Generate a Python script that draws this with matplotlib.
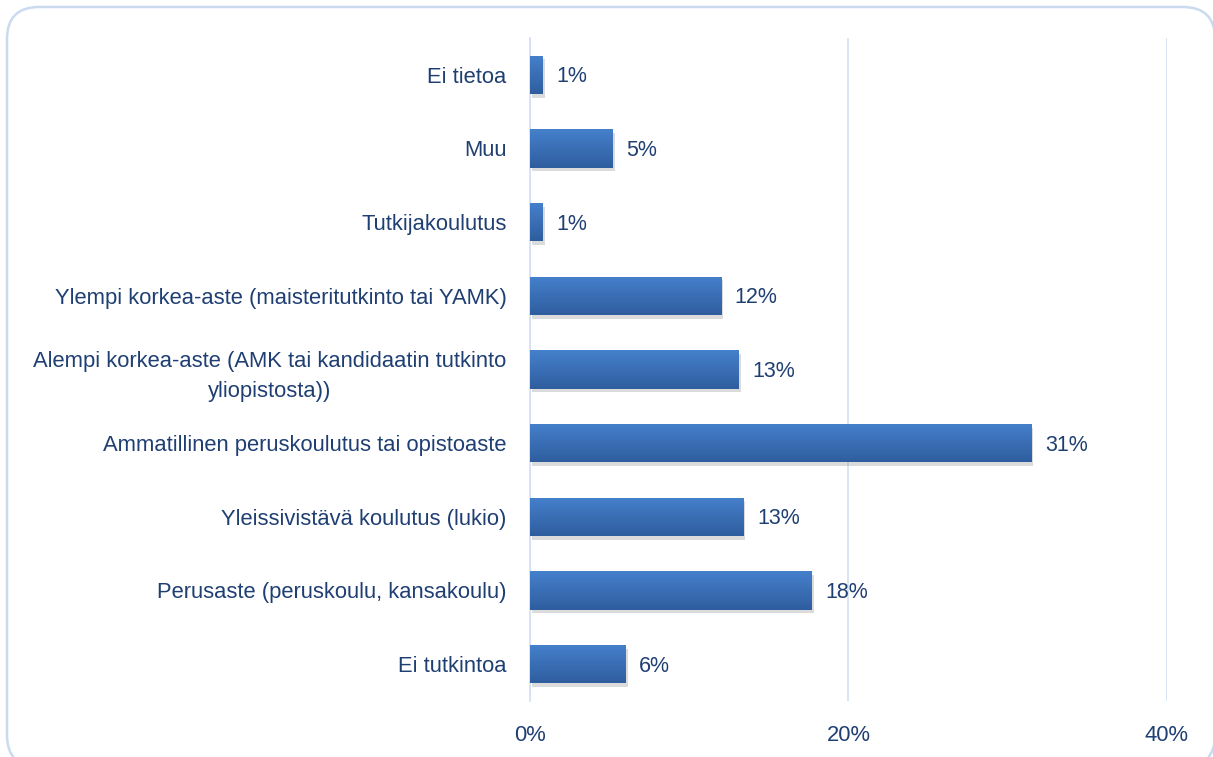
import matplotlib.pyplot as plt
import numpy as np
from matplotlib.patches import FancyBboxPatch, Rectangle
from matplotlib.ticker import FuncFormatter
from matplotlib.colors import LinearSegmentedColormap
from matplotlib.transforms import IdentityTransform

categories = ["Ei tietoa", "Muu", "Tutkijakoulutus",
              "Ylempi korkea-aste (maisteritutkinto tai YAMK)",
              "Alempi korkea-aste (AMK tai kandidaatin tutkinto\nyliopistosta))",
              "Ammatillinen peruskoulutus tai opistoaste",
              "Yleissivistävä koulutus (lukio)",
              "Perusaste (peruskoulu, kansakoulu)",
              "Ei tutkintoa"]
values = [0.8, 5.2, 0.8, 12.0, 13.1, 31.5, 13.4, 17.7, 6.0]
labels = ["1%", "5%", "1%", "12%", "13%", "31%", "13%", "18%", "6%"]
xticks = [0, 20, 40]

text_col = "#1F3F73"
grid_col = "#D3E0F1"

plt.rcParams['font.family'] = ['Liberation Sans', 'DejaVu Sans']

fig = plt.figure(figsize=(12.13, 7.57), dpi=100)
ax = fig.add_axes([0.437, 0.074, 0.525, 0.876])

# rounded frame round the chart (pixel coords, bottom/right run off the canvas)
frame = FancyBboxPatch((7, -10), 1208, 760, boxstyle="round,pad=0,rounding_size=32",
                       transform=IdentityTransform(), facecolor="white", edgecolor="#CADBF0",
                       linewidth=1.8, zorder=-10)
fig.patches.append(frame)

y = np.arange(len(categories))[::-1]
bars = ax.barh(y, values, height=0.52, color="#3A6DB5", zorder=3)

# gradient fill + soft shadow
grad = np.linspace(0, 1, 50).reshape(-1, 1)
cmap = LinearSegmentedColormap.from_list("g", ["#4580CC", "#2F5E9F"])
for b in bars:
    x0, y0, w, h = b.get_x(), b.get_y(), b.get_width(), b.get_height()
    sh = Rectangle((x0 + 0.12, y0 - 0.05), w, h, facecolor="#888888", alpha=0.3,
                   edgecolor="none", zorder=2)
    ax.add_patch(sh)
    im = ax.imshow(grad, extent=(x0, x0 + w, y0, y0 + h), aspect="auto", cmap=cmap,
                   origin="upper", zorder=4)
    im.set_clip_path(b)

for yi, v, lab in zip(y, values, labels):
    ax.text(v + 0.85, yi - 0.03, lab, va="center", ha="left", fontsize=15.5, color=text_col, zorder=5)

ax.set_xlim(0, 40)
ax.set_ylim(-0.5, len(categories) - 0.5)
ax.set_xticks(xticks)
ax.xaxis.set_major_formatter(FuncFormatter(lambda v, p: f"{v:.0f}%"))
ax.set_yticks(y)
ax.set_yticklabels(categories)
for t in ax.get_yticklabels():
    t.set_multialignment("center")
    t.set_linespacing(1.55)
ax.tick_params(axis="both", length=0, labelsize=15.8, labelcolor=text_col)
ax.tick_params(axis="y", pad=17)
ax.tick_params(axis="x", pad=17)
ax.grid(axis="x", color=grid_col, linewidth=1.2, zorder=0)
for s in ["top", "right", "bottom"]:
    ax.spines[s].set_visible(False)
ax.spines["left"].set_color(grid_col)
ax.spines["left"].set_linewidth(1.2)
ax.set_facecolor("none")

fig.savefig("out.png", dpi=100)
